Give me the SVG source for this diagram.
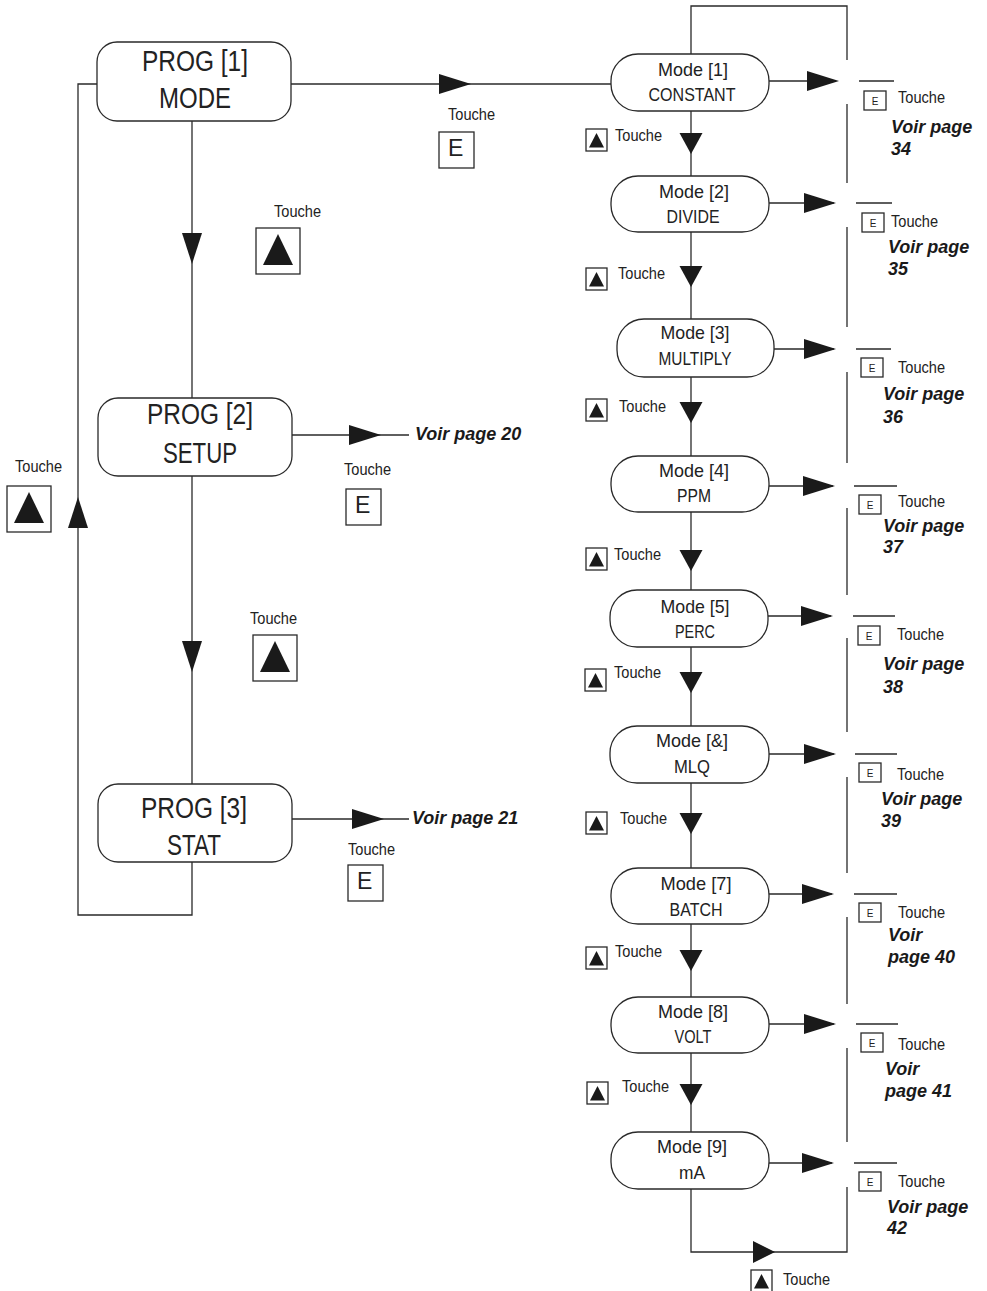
<svg xmlns="http://www.w3.org/2000/svg" width="987" height="1291" viewBox="0 0 987 1291">
<defs>
<style>
.ln{fill:none;stroke:#2a2a2a;stroke-width:1.3}
.box{fill:#fff;stroke:#2a2a2a;stroke-width:1.3}
.ah{fill:#1a1a1a}
.t{font-family:"Liberation Sans",Arial,sans-serif;fill:#222}
.big{font-size:30px}
.md{font-size:19px}
.to{font-size:17px}
.ek{font-size:10px}
.eb{font-size:23px}
.vp{font-family:"Liberation Sans",Arial,sans-serif;font-size:18px;font-weight:bold;font-style:italic;fill:#1a1a1a}
</style>
<polygon id="aR" points="0,0 -32,-10 -32,10"/>
<polygon id="aD" points="0,0 -10,-31 10,-31"/>
<polygon id="aDs" points="0,0 -11.5,-21 11.5,-21"/>
<polygon id="aU" points="0,0 -10,31 10,31"/>
<polygon id="aRs" points="0,0 -22,-11 -22,11"/>
<g id="kS"><rect x="0" y="0" width="21" height="22" class="box"/><polygon points="10.5,4 3,18.5 18,18.5" class="ah"/></g>
<g id="kB"><rect x="0" y="0" width="44" height="46" class="box"/><polygon points="22,6 7,37 37,37" class="ah"/></g>
<g id="eS"><rect x="0" y="0" width="22" height="19" class="box"/><text x="11" y="14" text-anchor="middle" class="t ek">E</text></g>
<g id="eB"><rect x="0" y="0" width="35" height="36" class="box"/><text x="9" y="24" class="t eb">E</text></g>
</defs>
<rect width="987" height="1291" fill="#fff"/>

<g id="connectors">
<g class="ln">
<path d="M291,84 H611"/>
<path d="M192,121 V398"/>
<path d="M292,435 H409"/>
<path d="M192,476 V784"/>
<path d="M292,819 H409"/>
<path d="M192,862 V915 H78 V84 H97"/>
<path d="M691,54 V6 H847 V60"/>
<path d="M691,111 V176"/>
<path d="M691,232 V319"/>
<path d="M691,377 V456"/>
<path d="M691,512 V590"/>
<path d="M691,647 V726"/>
<path d="M691,783 V868"/>
<path d="M691,924 V997"/>
<path d="M691,1053 V1132"/>
<path d="M691,1189 V1252 H847 V1187"/>
<path d="M847,104 V183 M847,227 V327 M847,372 V463 M847,508 V595 M847,638 V732 M847,777 V873 M847,917 V1004 M847,1048 V1142"/>
<path d="M769,81 H836 M769,203 H834 M774,349 H834 M769,486 H833 M768,616 H831 M769,754 H834 M769,894 H832 M769,1024 H834 M769,1163 H832"/>
<path d="M859,81 H894 M856,203 H892 M856,349 H891 M854,486 H897 M853,616 H895 M855,754 H897 M854,894 H897 M856,1024 H898 M854,1163 H897"/>
</g>
<g class="ah">
<use href="#aR" x="471" y="84"/>
<use href="#aD" x="192" y="264"/>
<use href="#aR" x="381" y="435"/>
<use href="#aD" x="192" y="672"/>
<use href="#aR" x="384" y="819"/>
<use href="#aU" x="78" y="497"/>
<use href="#aR" x="839" y="81"/>
<use href="#aR" x="836" y="203"/>
<use href="#aR" x="836" y="349"/>
<use href="#aR" x="835" y="486"/>
<use href="#aR" x="833" y="616"/>
<use href="#aR" x="836" y="754"/>
<use href="#aR" x="834" y="894"/>
<use href="#aR" x="836" y="1024"/>
<use href="#aR" x="834" y="1163"/>
<use href="#aDs" x="691" y="154"/>
<use href="#aDs" x="691" y="287"/>
<use href="#aDs" x="691" y="423"/>
<use href="#aDs" x="691" y="571"/>
<use href="#aDs" x="691" y="693"/>
<use href="#aDs" x="691" y="834"/>
<use href="#aDs" x="691" y="971"/>
<use href="#aDs" x="691" y="1105"/>
<use href="#aRs" x="775" y="1252"/>
</g>
</g>

<g id="prog1">
<rect x="97" y="42" width="194" height="79" rx="20" class="box"/>
<text x="195" y="71" text-anchor="middle" class="t big" textLength="106" lengthAdjust="spacingAndGlyphs">PROG [1]</text>
<text x="195" y="108" text-anchor="middle" class="t big" textLength="72" lengthAdjust="spacingAndGlyphs">MODE</text>
</g>
<g id="prog2">
<rect x="98" y="398" width="194" height="78" rx="20" class="box"/>
<text x="200" y="424" text-anchor="middle" class="t big" textLength="106" lengthAdjust="spacingAndGlyphs">PROG [2]</text>
<text x="200" y="463" text-anchor="middle" class="t big" textLength="74" lengthAdjust="spacingAndGlyphs">SETUP</text>
</g>
<g id="prog3">
<rect x="98" y="784" width="194" height="78" rx="20" class="box"/>
<text x="194" y="818" text-anchor="middle" class="t big" textLength="106" lengthAdjust="spacingAndGlyphs">PROG [3]</text>
<text x="194" y="855" text-anchor="middle" class="t big" textLength="54" lengthAdjust="spacingAndGlyphs">STAT</text>
</g>

<g id="keys-left">
<text x="448" y="120" class="t to" textLength="47" lengthAdjust="spacingAndGlyphs">Touche</text>
<use href="#eB" x="439" y="132"/>
<text x="274" y="217" class="t to" textLength="47" lengthAdjust="spacingAndGlyphs">Touche</text>
<use href="#kB" x="256" y="228"/>
<text x="415" y="440" class="vp">Voir page 20</text>
<text x="344" y="475" class="t to" textLength="47" lengthAdjust="spacingAndGlyphs">Touche</text>
<use href="#eB" x="346" y="489"/>
<text x="15" y="472" class="t to" textLength="47" lengthAdjust="spacingAndGlyphs">Touche</text>
<use href="#kB" x="7" y="486"/>
<text x="250" y="624" class="t to" textLength="47" lengthAdjust="spacingAndGlyphs">Touche</text>
<use href="#kB" x="253" y="635"/>
<text x="412" y="824" class="vp">Voir page 21</text>
<text x="348" y="855" class="t to" textLength="47" lengthAdjust="spacingAndGlyphs">Touche</text>
<use href="#eB" x="348" y="865"/>
</g>

<g id="mode1">
<rect x="611" y="54" width="158" height="57" rx="27" class="box"/>
<text x="693" y="76" text-anchor="middle" class="t md" textLength="70" lengthAdjust="spacingAndGlyphs">Mode [1]</text>
<text x="692" y="101" text-anchor="middle" class="t md" textLength="87" lengthAdjust="spacingAndGlyphs">CONSTANT</text>
</g>
<g id="mode2">
<rect x="611" y="176" width="158" height="56" rx="27" class="box"/>
<text x="694" y="198" text-anchor="middle" class="t md" textLength="70" lengthAdjust="spacingAndGlyphs">Mode [2]</text>
<text x="693" y="223" text-anchor="middle" class="t md" textLength="53" lengthAdjust="spacingAndGlyphs">DIVIDE</text>
</g>
<g id="mode3">
<rect x="617" y="319" width="157" height="58" rx="27" class="box"/>
<text x="695" y="339" text-anchor="middle" class="t md" textLength="69" lengthAdjust="spacingAndGlyphs">Mode [3]</text>
<text x="695" y="365" text-anchor="middle" class="t md" textLength="73" lengthAdjust="spacingAndGlyphs">MULTIPLY</text>
</g>
<g id="mode4">
<rect x="611" y="456" width="158" height="56" rx="27" class="box"/>
<text x="694" y="477" text-anchor="middle" class="t md" textLength="70" lengthAdjust="spacingAndGlyphs">Mode [4]</text>
<text x="694" y="502" text-anchor="middle" class="t md" textLength="34" lengthAdjust="spacingAndGlyphs">PPM</text>
</g>
<g id="mode5">
<rect x="610" y="590" width="158" height="57" rx="27" class="box"/>
<text x="695" y="613" text-anchor="middle" class="t md" textLength="69" lengthAdjust="spacingAndGlyphs">Mode [5]</text>
<text x="695" y="638" text-anchor="middle" class="t md" textLength="40" lengthAdjust="spacingAndGlyphs">PERC</text>
</g>
<g id="mode6">
<rect x="610" y="726" width="159" height="57" rx="27" class="box"/>
<text x="692" y="747" text-anchor="middle" class="t md" textLength="72" lengthAdjust="spacingAndGlyphs">Mode [&amp;]</text>
<text x="692" y="773" text-anchor="middle" class="t md" textLength="36" lengthAdjust="spacingAndGlyphs">MLQ</text>
</g>
<g id="mode7">
<rect x="611" y="868" width="158" height="56" rx="27" class="box"/>
<text x="696" y="890" text-anchor="middle" class="t md" textLength="71" lengthAdjust="spacingAndGlyphs">Mode [7]</text>
<text x="696" y="916" text-anchor="middle" class="t md" textLength="53" lengthAdjust="spacingAndGlyphs">BATCH</text>
</g>
<g id="mode8">
<rect x="611" y="997" width="158" height="56" rx="27" class="box"/>
<text x="693" y="1018" text-anchor="middle" class="t md" textLength="70" lengthAdjust="spacingAndGlyphs">Mode [8]</text>
<text x="693" y="1043" text-anchor="middle" class="t md" textLength="37" lengthAdjust="spacingAndGlyphs">VOLT</text>
</g>
<g id="mode9">
<rect x="611" y="1132" width="158" height="57" rx="27" class="box"/>
<text x="692" y="1153" text-anchor="middle" class="t md" textLength="70" lengthAdjust="spacingAndGlyphs">Mode [9]</text>
<text x="692" y="1179" text-anchor="middle" class="t md" textLength="26" lengthAdjust="spacingAndGlyphs">mA</text>
</g>

<g id="keys-mode-up">
<use href="#kS" x="586" y="129"/><text x="615" y="141" class="t to" textLength="47" lengthAdjust="spacingAndGlyphs">Touche</text>
<use href="#kS" x="586" y="268"/><text x="618" y="279" class="t to" textLength="47" lengthAdjust="spacingAndGlyphs">Touche</text>
<use href="#kS" x="586" y="399"/><text x="619" y="412" class="t to" textLength="47" lengthAdjust="spacingAndGlyphs">Touche</text>
<use href="#kS" x="586" y="548"/><text x="614" y="560" class="t to" textLength="47" lengthAdjust="spacingAndGlyphs">Touche</text>
<use href="#kS" x="585" y="669"/><text x="614" y="678" class="t to" textLength="47" lengthAdjust="spacingAndGlyphs">Touche</text>
<use href="#kS" x="586" y="812"/><text x="620" y="824" class="t to" textLength="47" lengthAdjust="spacingAndGlyphs">Touche</text>
<use href="#kS" x="586" y="947"/><text x="615" y="957" class="t to" textLength="47" lengthAdjust="spacingAndGlyphs">Touche</text>
<use href="#kS" x="587" y="1082"/><text x="622" y="1092" class="t to" textLength="47" lengthAdjust="spacingAndGlyphs">Touche</text>
<use href="#kS" x="751" y="1270"/><text x="783" y="1285" class="t to" textLength="47" lengthAdjust="spacingAndGlyphs">Touche</text>
</g>

<g id="keys-mode-e">
<use href="#eS" x="864" y="91"/><text x="898" y="103" class="t to" textLength="47" lengthAdjust="spacingAndGlyphs">Touche</text>
<text x="891" y="133" class="vp">Voir page</text><text x="891" y="155" class="vp">34</text>
<use href="#eS" x="862" y="213"/><text x="891" y="227" class="t to" textLength="47" lengthAdjust="spacingAndGlyphs">Touche</text>
<text x="888" y="253" class="vp">Voir page</text><text x="888" y="275" class="vp">35</text>
<use href="#eS" x="861" y="358"/><text x="898" y="373" class="t to" textLength="47" lengthAdjust="spacingAndGlyphs">Touche</text>
<text x="883" y="400" class="vp">Voir page</text><text x="883" y="423" class="vp">36</text>
<use href="#eS" x="859" y="495"/><text x="898" y="507" class="t to" textLength="47" lengthAdjust="spacingAndGlyphs">Touche</text>
<text x="883" y="532" class="vp">Voir page</text><text x="883" y="553" class="vp">37</text>
<use href="#eS" x="858" y="626"/><text x="897" y="640" class="t to" textLength="47" lengthAdjust="spacingAndGlyphs">Touche</text>
<text x="883" y="670" class="vp">Voir page</text><text x="883" y="693" class="vp">38</text>
<use href="#eS" x="859" y="763"/><text x="897" y="780" class="t to" textLength="47" lengthAdjust="spacingAndGlyphs">Touche</text>
<text x="881" y="805" class="vp">Voir page</text><text x="881" y="827" class="vp">39</text>
<use href="#eS" x="859" y="903"/><text x="898" y="918" class="t to" textLength="47" lengthAdjust="spacingAndGlyphs">Touche</text>
<text x="888" y="941" class="vp">Voir</text><text x="888" y="963" class="vp">page 40</text>
<use href="#eS" x="861" y="1033"/><text x="898" y="1050" class="t to" textLength="47" lengthAdjust="spacingAndGlyphs">Touche</text>
<text x="885" y="1075" class="vp">Voir</text><text x="885" y="1097" class="vp">page 41</text>
<use href="#eS" x="859" y="1172"/><text x="898" y="1187" class="t to" textLength="47" lengthAdjust="spacingAndGlyphs">Touche</text>
<text x="887" y="1213" class="vp">Voir page</text><text x="887" y="1234" class="vp">42</text>
</g>
</svg>
